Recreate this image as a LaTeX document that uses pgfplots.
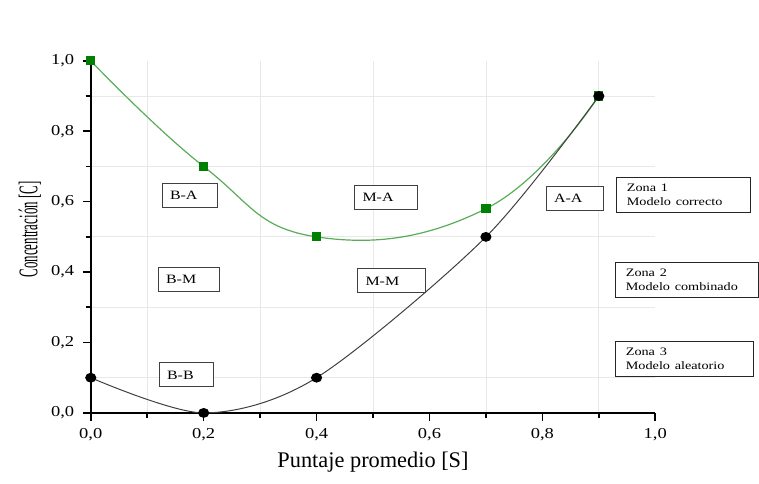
\documentclass[border=0pt]{standalone}
\usepackage{pgfplots}
\pgfplotsset{compat=1.18}
\usepackage{graphicx}
\usepackage{fontspec}
\setmainfont{Liberation Serif}
\definecolor{mkgreen}{RGB}{0,128,0}
\definecolor{lngreen}{RGB}{90,172,90}
\newcommand{\wide}[1]{\scalebox{1.25}[1]{#1}}
\tikzset{
  box/.style={draw=black!75, line width=0.5pt, fill=white, anchor=west, inner xsep=4pt, align=left, font=\fontsize{6.4}{7.5}\selectfont, minimum height=12pt},
  zbox/.style={draw=black!85, line width=0.5pt, fill=white, anchor=west, inner xsep=5pt, align=left, font=\fontsize{5.7}{7}\selectfont, minimum height=17pt},
}
\begin{document}
\begin{tikzpicture}
\begin{axis}[
  scale only axis, width=283pt, height=176.5pt,
  xmin=0, xmax=1, ymin=0, ymax=1,
  axis lines=left, axis line style={-, line width=0.9pt},
  xtick={0,0.2,0.4,0.6,0.8,1.0}, ytick={0,0.2,0.4,0.6,0.8,1.0},
  minor xtick={0.1,0.3,0.5,0.7,0.9}, minor ytick={0.1,0.3,0.5,0.7,0.9},
  tick align=outside, major tick length=4pt, minor tick length=2.6pt,
  every tick/.style={black, line width=0.8pt},
  xminorgrids, yminorgrids,
  minor grid style={black!9, line width=0.4pt},
  /pgf/number format/assume math mode=true,
  /pgf/number format/use comma, /pgf/number format/fixed,
  /pgf/number format/precision=1, /pgf/number format/fixed zerofill,
  tick label style={font=\fontsize{7.6}{9}\selectfont, xscale=1.22},
  every axis x label/.style={at={(rel axis cs:0.5,-0.139)}, anchor=center},
  every axis y label/.style={at={(rel axis cs:-0.108,0.521)}, anchor=center, rotate=90},
  label style={font=\fontsize{11.2}{13}\selectfont},
  xlabel={Puntaje promedio [S]},
  ylabel={\scalebox{0.48}[1]{\fontsize{13.5}{15}\selectfont Concentración [C]}},
  clip=false,
]
\path (axis cs:-0.1608,-0.2011) rectangle (axis cs:1.1802,1.1728);
\addplot[lngreen, line width=0.6pt, smooth, tension=0.75, mark=square*, mark size=2pt,
  mark options={draw=mkgreen, fill=mkgreen}]
  coordinates {(0,1.0) (0.2,0.7) (0.4,0.5) (0.7,0.58) (0.9,0.9)};
\addplot[black!75, line width=0.5pt, smooth, mark=*, mark size=2.2pt,
  mark options={draw=black, fill=black, xscale=1.15}]
  coordinates {(0,0.1) (0.2,0.0) (0.4,0.1) (0.7,0.5) (0.9,0.9)};
\node[box, text width=20pt] at (axis cs:0.1254,0.618) {\wide{B-A}};
\node[box, text width=23pt] at (axis cs:0.1184,0.380) {\wide{B-M}};
\node[box, text width=19.5pt] at (axis cs:0.1201,0.108) {\wide{B-B}};
\node[box, text width=23.5pt] at (axis cs:0.4664,0.613) {\wide{M-A}};
\node[box, text width=26pt] at (axis cs:0.4717,0.375) {\wide{M-M}};
\node[box, text width=21pt] at (axis cs:0.8057,0.610) {\wide{A-A}};
\node[zbox, text width=57pt] at (axis cs:0.9311,0.620) {\wide{Zona 1}\\\wide{Modelo correcto}};
\node[zbox, text width=61.5pt] at (axis cs:0.9293,0.378) {\wide{Zona 2}\\\wide{Modelo combinado}};
\node[zbox, text width=59pt] at (axis cs:0.9293,0.153) {\wide{Zona 3}\\\wide{Modelo aleatorio}};
\end{axis}
\end{tikzpicture}
\end{document}
